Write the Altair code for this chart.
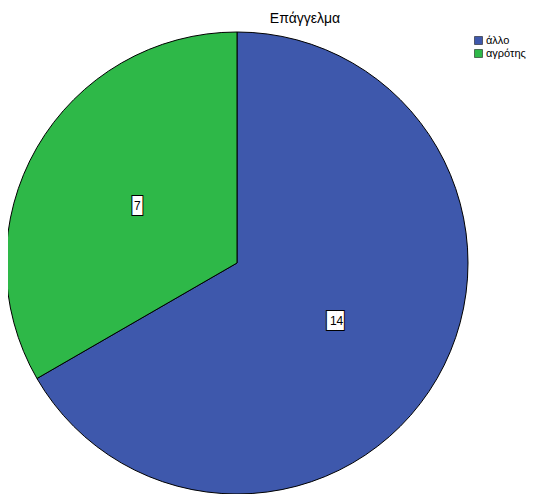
import altair as alt
import pandas as pd

categories = ["άλλο", "αγρότης"]
counts = [14, 7]
colors = ["#3E58AC", "#2EB848"]

df = pd.DataFrame({
    "cat": categories,
    "count": counts,
    "idx": list(range(len(categories))),
})

base = alt.Chart(df).encode(
    theta=alt.Theta("count:Q", stack=True),
    order=alt.Order("idx:Q"),
)

arcs = base.mark_arc(radius=231, stroke="black", strokeWidth=1).encode(
    color=alt.Color(
        "cat:N",
        scale=alt.Scale(domain=categories, range=colors),
        sort=categories,
        legend=alt.Legend(
            title=None,
            orient="none",
            legendX=465,
            legendY=3,
            symbolType="square",
            symbolSize=64,
            symbolStrokeColor="black",
            symbolStrokeWidth=0.5,
            labelFont="Liberation Sans",
            labelFontSize=11,
            labelColor="black",
            rowPadding=1,
            labelOffset=2,
        ),
    )
)

boxexpr = "length(datum.lab) == 1 ? '█' : '█▊'"

box_back = base.transform_calculate(lab="''+datum.count", box=boxexpr).mark_text(
    radius=115, font="DejaVu Sans Mono", fontSize=16, fill="black",
    stroke="black", strokeWidth=2, baseline="middle", align="center"
).encode(text="box:N")

box_front = base.transform_calculate(lab="''+datum.count", box=boxexpr).mark_text(
    radius=115, font="DejaVu Sans Mono", fontSize=16, fill="white",
    baseline="middle", align="center"
).encode(text="box:N")

labels = base.mark_text(
    radius=115, font="Liberation Sans", fontSize=12, color="black",
    baseline="middle", align="center"
).encode(text="count:Q")

chart = alt.layer(arcs, box_back, box_front, labels).properties(
    width=458,
    height=462,
    title=alt.TitleParams(
        "Επάγγελμα", font="Liberation Sans", fontSize=14, fontWeight="normal",
        anchor="middle", dx=68, offset=4, color="black",
    ),
    autosize=alt.AutoSizeParams(type="none"),
    padding={"left": 0, "top": 24, "right": 70, "bottom": 0},
    background="white",
).configure_view(stroke=None)

chart.save("out.html", embed_options={"renderer": "svg", "actions": False})
